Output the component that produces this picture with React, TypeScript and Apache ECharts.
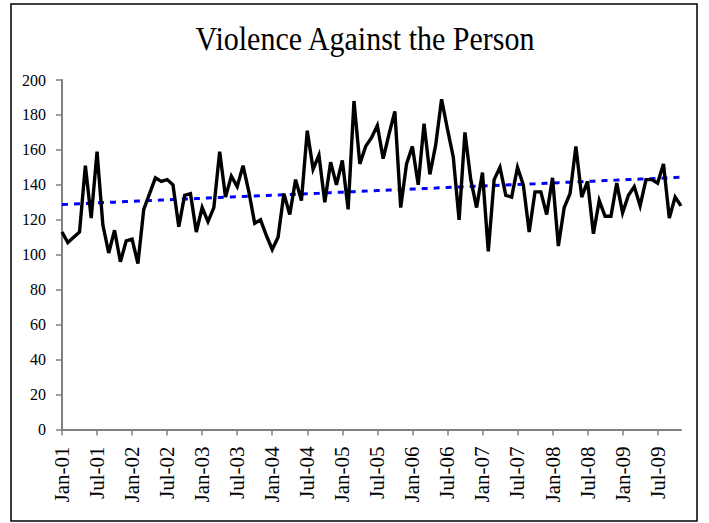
import React, { useEffect, useRef } from "react";
import * as echarts from "echarts";

const titleText = "Violence Against the Person";
const monthNames = ["Jan", "Feb", "Mar", "Apr", "May", "Jun", "Jul", "Aug", "Sep", "Oct", "Nov", "Dec"];
const years = ["01", "02", "03", "04", "05", "06", "07", "08", "09"];

// Monthly counts, Jan-01 .. Nov-09
const values = [
  113, 107, 110, 113, 151, 121, 159, 117, 101, 114, 96, 108,
  109, 95, 126, 135, 144, 142, 143, 140, 116, 134, 135, 113,
  127, 119, 127, 159, 133, 145, 139, 151, 136, 118, 120, 111,
  103, 110, 135, 123, 143, 131, 171, 149, 157, 130, 153, 140,
  154, 126, 188, 152, 162, 167, 174, 155, 169, 182, 127, 152,
  162, 140, 175, 146, 163, 189, 172, 156, 120, 170, 143, 127,
  147, 102, 143, 150, 134, 133, 150, 140, 113, 136, 136, 123,
  144, 105, 127, 135, 162, 133, 142, 112, 131, 122, 122, 141,
  124, 134, 139, 128, 143, 143, 141, 152, 121, 133, 128,
];

const yTicks = { min: 0, max: 200, interval: 20 };

export default function App() {
  const ref = useRef<HTMLDivElement>(null);

  useEffect(() => {
    if (!ref.current) return;
    const chart = echarts.init(ref.current, null, { renderer: "svg" });

    const categories = values.map(
      (_, i) => `${monthNames[i % 12]}-${years[Math.floor(i / 12)]}`
    );

    // Linear (least-squares) trend of the data, as Excel's trendline
    const n = values.length;
    let sx = 0, sy = 0, sxx = 0, sxy = 0;
    values.forEach((v, i) => {
      sx += i; sy += v; sxx += i * i; sxy += i * v;
    });
    const slope = (n * sxy - sx * sy) / (n * sxx - sx * sx);
    const intercept = (sy - slope * sx) / n;
    const trend = values.map((_, i) => +(intercept + slope * i).toFixed(2));

    const serif = '"Liberation Serif", "Times New Roman", serif';

    chart.setOption({
      animation: false,
      backgroundColor: "#ffffff",
      graphic: [
        {
          type: "rect",
          shape: { x: 11, y: 4, width: 686, height: 517 },
          style: { fill: "none", stroke: "#000", lineWidth: 1.5 },
          silent: true,
        },
        {
          type: "text",
          x: 365,
          y: 39,
          scaleY: 1.1,
          style: {
            text: titleText,
            textAlign: "center",
            textVerticalAlign: "middle",
            fontSize: 30,
            fontFamily: serif,
            fill: "#000",
          },
        },
      ],
      grid: { left: 62, right: 28, top: 80, bottom: 93.5, containLabel: false },
      xAxis: {
        type: "category",
        data: categories,
        boundaryGap: false,
        axisLine: { show: true, lineStyle: { color: "#808080", width: 2 } },
        axisTick: { show: true, interval: 5, length: 6, lineStyle: { color: "#808080", width: 1.5 } },
        axisLabel: {
          interval: 5,
          rotate: 90,
          margin: 17,
          fontSize: 21,
          fontFamily: serif,
          color: "#000",
        },
        splitLine: { show: false },
      },
      yAxis: {
        type: "value",
        min: yTicks.min,
        max: yTicks.max,
        interval: yTicks.interval,
        axisLine: { show: true, lineStyle: { color: "#808080", width: 2 } },
        axisTick: { show: true, length: 6, lineStyle: { color: "#808080", width: 1.5 } },
        axisLabel: { margin: 16, fontSize: 16, fontFamily: serif, color: "#000" },
        splitLine: { show: false },
      },
      series: [
        {
          name: "Violence Against the Person",
          type: "line",
          data: values,
          symbol: "none",
          lineStyle: { color: "#000", width: 3.4, join: "miter" },
          z: 3,
        },
        {
          name: "Trend",
          type: "line",
          data: trend,
          symbol: "none",
          lineStyle: { color: "#0000ff", width: 3, type: [6, 6] },
          z: 2,
        },
      ],
    });

    return () => chart.dispose();
  }, []);

  return (
    <div
      ref={ref}
      style={{ position: "fixed", left: 0, top: 0, width: 709, height: 523 }}
    />
  );
}
